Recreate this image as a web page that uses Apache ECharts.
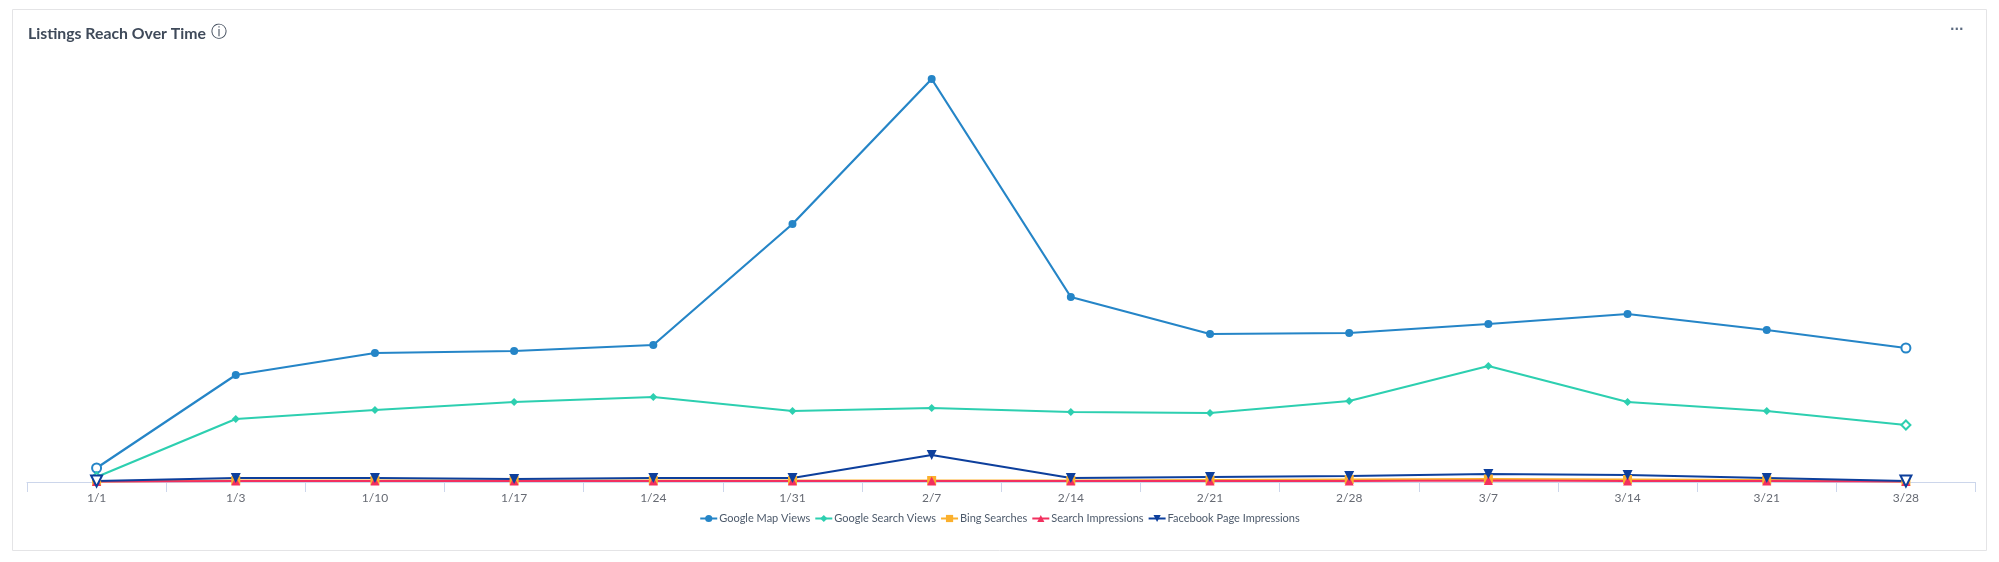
<!DOCTYPE html>
<html><head><meta charset="utf-8">
<script src="https://cdn.jsdelivr.net/npm/echarts@6/dist/echarts.min.js"></script>
<style>html,body{margin:0;padding:0;background:#fff;overflow:hidden}#c{width:1999px;height:562px}</style>
</head><body><div id="c"></div>
<script>
const categories = ['1/1','1/3','1/10','1/17','1/24','1/31','2/7','2/14','2/21','2/28','3/7','3/14','3/21','3/28'];
const googleMapViews = [14,107,129,131,137,258,403,185,148,149,158,168,152,134];
const googleSearchViews = [5,63,72,80,85,71,74,70,69,81,116,80,71,57];
const bingSearches = [0.5,1.5,1.5,1.5,1.5,1.5,1.5,1.5,2,2.5,3,2.5,2,0.5];
const searchImpressions = [0.5,1,1,1,1,1,1,1,1,1,1.5,1,1,0.5];
const facebookImpressions = [1,4,4,3,4,4,27,4,5,6,8,7,4,1];

function mk(name, vals, color, symbol, size, hollowEnds, rotate){
  return {
    name, type:'line', symbol, symbolSize:size, symbolRotate:rotate||0, showAllSymbol:true, clip:false,
    lineStyle:{color,width:2.2}, itemStyle:{color,opacity:1}, z:2, animation:false,
    emphasis:{disabled:true},
    data: vals.map((v,i)=>{
      if(hollowEnds && (i===0||i===vals.length-1)){
        return {value:v, symbol:'empty'+symbol[0].toUpperCase()+symbol.slice(1), symbolSize:size+1,
                itemStyle:{color,borderColor:color,borderWidth:2}};
      }
      return v;
    })
  };
}
const chart = echarts.init(document.getElementById('c'));
chart.setOption({
  animation:false,
  backgroundColor:'#fff',
  textStyle:{fontFamily:'Lato'},
  grid:{left:27,right:23.5,top:50,bottom:80,containLabel:false},
  legend:{
    show:true, bottom:33, left:'center', itemWidth:17, itemHeight:9, itemGap:4,
    textStyle:{fontFamily:'Lato',fontSize:11,color:'#4d5a6b',padding:[0,0,0,-3]},
    selectedMode:false
  },
  xAxis:{
    type:'category', data:categories, boundaryGap:true,
    axisLine:{lineStyle:{color:'#ccd6eb',width:1}},
    axisTick:{show:true,length:10,alignWithLabel:false,lineStyle:{color:'#ccd6eb'}},
    axisLabel:{color:'#666a73',fontFamily:'Lato',fontSize:12,margin:10,interval:0}
  },
  yAxis:{type:'value',min:0,max:432,show:false},
  graphic:[
    {type:'rect',silent:true,z:-1,shape:{x:12.5,y:9.5,width:1974,height:541},style:{fill:'#fff',stroke:'#e4e4e6',lineWidth:1}},
    {type:'text',silent:true,x:28,y:26,style:{text:'Listings Reach Over Time',fontFamily:'Lato',fontWeight:'bold',fontSize:15.8,fill:'#3f4a5a'}},
    {type:'text',silent:true,x:211,y:25,style:{text:'ⓘ',fontFamily:'DejaVu Sans',fontSize:16,fill:'#3f4a5a'}},
    {type:'text',silent:true,x:1950,y:24,style:{text:'···',fontFamily:'DejaVu Sans',fontWeight:'bold',fontSize:12,fill:'#5c6b80'}}
  ],
  series:[
    mk('Google Map Views',googleMapViews,'#2585c7','circle',8,true),
    mk('Google Search Views',googleSearchViews,'#2dcfb0','diamond',8,true),
    mk('Bing Searches',bingSearches,'#fbb02d','rect',9,false),
    mk('Search Impressions',searchImpressions,'#f2305f','triangle',9,false),
    mk('Facebook Page Impressions',facebookImpressions,'#0d3f9c','triangle',10,true,180)
  ]
});
</script></body></html>
